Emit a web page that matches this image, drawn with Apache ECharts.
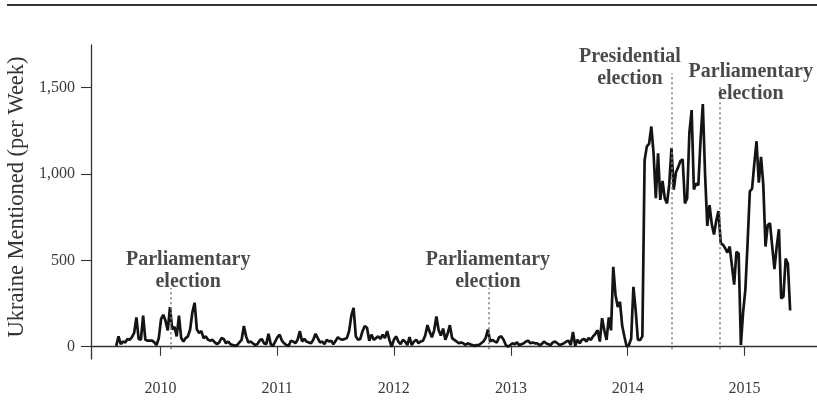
<!DOCTYPE html>
<html>
<head>
<meta charset="utf-8">
<title>Ukraine mentioned per week</title>
<script src="https://cdn.jsdelivr.net/npm/echarts@6/dist/echarts.min.js"></script>
<style>
html,body{margin:0;width:100%;height:100%;background:#fff;}
#main{width:817px;height:419px;}
</style>
</head>
<body>
<div id="main"></div>
<script>
// weekly counts, first week starts on startDate
var startDate = '2009-08-16';
var weeklyMentions = [
  5, 60, 15, 30, 25, 45, 40, 55, 80, 170,
  45, 40, 180, 40, 35, 35, 35, 25, 10, 50,
  160, 185, 150, 95, 230, 100, 115, 60, 180, 50,
  30, 50, 60, 100, 200, 255, 100, 80, 90, 50,
  60, 40, 35, 40, 25, 15, 25, 50, 45, 20,
  30, 15, 10, 5, 10, 25, 40, 120, 60, 25,
  30, 20, 10, 15, 35, 45, 20, 15, 75, 15,
  5, 30, 55, 70, 35, 20, 10, 5, 35, 30,
  20, 40, 90, 30, 45, 30, 25, 20, 40, 75,
  50, 25, 30, 15, 40, 30, 35, 15, 35, 55,
  45, 40, 45, 50, 90, 180, 225, 60, 40, 45,
  90, 120, 110, 35, 70, 40, 50, 60, 45, 70,
  50, 90, 40, 0, 40, 60, 30, 15, 40, 30,
  10, 55, 10, 30, 40, 20, 30, 35, 65, 125,
  85, 55, 95, 175, 95, 65, 105, 40, 75, 125,
  50, 40, 30, 20, 25, 20, 10, 20, 15, 10,
  5, 10, 10, 20, 30, 50, 100, 30, 40, 30,
  25, 55, 60, 40, 10, 0, 10, 20, 15, 25,
  10, 15, 20, 30, 35, 20, 25, 20, 20, 10,
  15, 30, 20, 15, 10, 25, 30, 20, 10, 15,
  20, 30, 35, 10, 85, 5, 40, 20, 40, 45,
  30, 50, 40, 60, 75, 95, 30, 165, 95, 40,
  170, 95, 463, 300, 230, 260, 120, 58, 0, 10,
  48, 347, 212, 39, 39, 60, 1080, 1160, 1175, 1275,
  1120, 860, 1120, 850, 960, 860, 830, 940, 1150, 910,
  1010, 1040, 1075, 1085, 830, 860, 1240, 1370, 910, 945,
  935, 1200, 1405, 1000, 700, 820, 710, 650, 730, 785,
  600, 590, 570, 545, 580, 470, 360, 550, 540, 10,
  200, 330, 600, 900, 915, 1060, 1190, 950, 1100, 940,
  580, 705, 715, 580, 450, 580, 680, 280, 290, 510,
  480, 210
];
var yearTicks = [2010, 2011, 2012, 2013, 2014, 2015];
var countTicks = [0, 500, 1000, 1500];

// election markers
var electionDates = ['2010-02-01', '2012-10-23', '2014-05-18', '2014-10-16'];
var electionLineTops = [340, 338, 1583, 1502];
var electionLabels = ['Parliamentary\nelection', 'Parliamentary\nelection', 'Presidential\nelection', 'Parliamentary\nelection'];
var labelDates = ['2010-03-29', '2012-10-21', '2014-01-08', '2015-01-21'];
var labelValues = [440, 438, 1617, 1530];

var xMin = '2009-05-29', xMax = '2015-08-16';
var yMin = -71, yMax = 1747;

function day(s) {
  var p = s.split('-');
  return Date.UTC(+p[0], +p[1] - 1, +p[2]);
}

var weekMs = 7 * 24 * 3600 * 1000;
var t0 = day(startDate);
var lineData = weeklyMentions.map(function (v, i) { return [t0 + i * weekMs, v]; });
var yearTimes = yearTicks.map(function (y) { return Date.UTC(y, 0, 1); });

var serif = 'Liberation Serif';

var option = {
  animation: false,
  backgroundColor: '#fff',
  grid: { left: 91, right: 0, top: 45, bottom: 60, outerBoundsMode: 'none' },
  graphic: [{
    type: 'line',
    shape: { x1: 7, y1: 5, x2: 817, y2: 5 },
    style: { stroke: '#333', lineWidth: 2 }
  }],
  xAxis: {
    type: 'value',
    min: day(xMin),
    max: day(xMax),
    splitLine: { show: false },
    axisLine: { lineStyle: { color: '#333', width: 1.3 } },
    axisTick: { customValues: yearTimes, length: 9, lineStyle: { color: '#333', width: 1.1 } },
    axisLabel: {
      customValues: yearTimes,
      margin: 22,
      fontFamily: serif,
      fontSize: 16,
      color: '#3a3a3a',
      formatter: function (v) { return String(new Date(v).getUTCFullYear()); }
    }
  },
  yAxis: {
    type: 'value',
    min: yMin,
    max: yMax,
    name: 'Ukraine Mentioned (per Week)',
    nameLocation: 'middle',
    nameGap: 47,
    nameTextStyle: { fontFamily: serif, fontSize: 22.5, color: '#333', padding: [0, 0, 0, 10] },
    splitLine: { show: false },
    axisLine: { show: true, lineStyle: { color: '#333', width: 1.3 } },
    axisTick: { show: true, customValues: countTicks, length: 10, lineStyle: { color: '#333', width: 1.1 } },
    axisLabel: {
      customValues: countTicks,
      margin: 16,
      fontFamily: serif,
      fontSize: 16,
      color: '#3a3a3a',
      formatter: function (v) { return v.toLocaleString('en-US'); }
    }
  },
  series: [
    {
      type: 'line',
      data: lineData,
      showSymbol: false,
      symbol: 'none',
      lineStyle: { color: '#141414', width: 2.7 },
      markLine: {
        silent: true,
        symbol: ['none', 'none'],
        label: { show: false },
        lineStyle: { color: '#808080', type: [2, 3], width: 1.6 },
        data: electionDates.map(function (d, i) {
          return [{ coord: [day(d), -15] }, { coord: [day(d), electionLineTops[i]] }];
        })
      }
    },
    {
      type: 'scatter',
      symbolSize: 0,
      silent: true,
      z: 5,
      data: labelDates.map(function (d, i) {
        return { value: [day(d), labelValues[i]], label: { formatter: electionLabels[i] } };
      }),
      label: {
        show: true,
        position: 'inside',
        align: 'center',
        verticalAlign: 'middle',
        fontFamily: serif,
        fontWeight: 'bold',
        fontSize: 20,
        lineHeight: 22,
        color: '#1c1c1c'
      }
    }
  ]
};

var chart = echarts.init(document.getElementById('main'));
chart.setOption(option);
</script>
</body>
</html>
